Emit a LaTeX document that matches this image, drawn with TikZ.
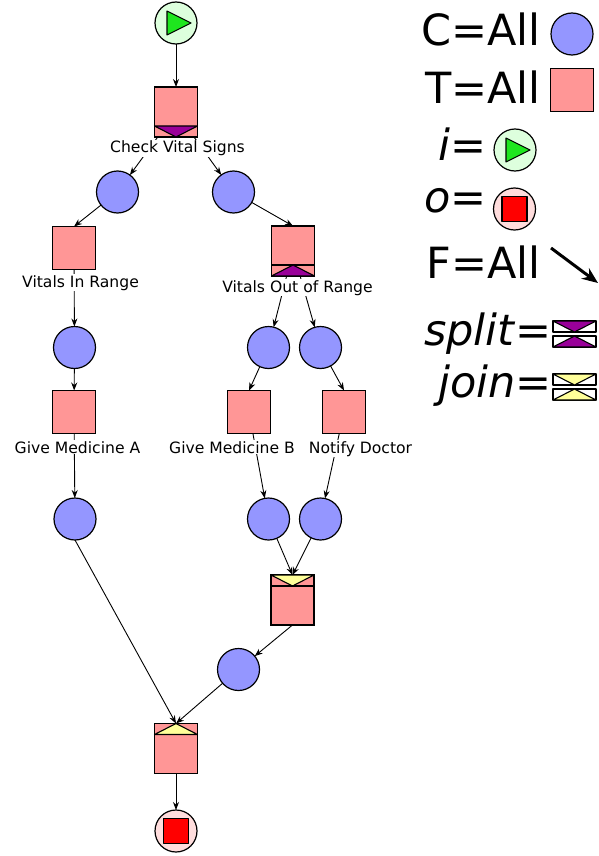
\documentclass[tikz,border=0pt]{standalone}
\usepackage{fontspec}
\setmainfont{DejaVu Sans}
\usetikzlibrary{arrows.meta,calc}

\definecolor{placeblue}{RGB}{148,150,255}
\definecolor{transred}{RGB}{255,150,150}
\definecolor{startgreen}{RGB}{221,255,221}
\definecolor{arrowgreen}{RGB}{30,230,30}
\definecolor{endpink}{RGB}{255,221,221}
\definecolor{splitpurple}{RGB}{153,0,153}
\definecolor{joinyellow}{RGB}{255,255,153}

\tikzset{
  place/.style={circle, draw, fill=placeblue, line width=1.2pt, minimum size=42pt, inner sep=0pt, outer sep=0pt},
  trans/.style={rectangle, draw, fill=transred, line width=1.2pt, minimum width=43pt, minimum height=43pt, inner sep=0pt, outer sep=0pt},
  tall/.style={trans, minimum height=50pt},
  startplace/.style={place, fill=startgreen},
  endplace/.style={place, fill=endpink},
  tlabel/.style={fill=white, inner sep=1pt, anchor=base, font=\fontsize{15.6}{18}\selectfont},
  legend/.style={anchor=base east, inner sep=0pt, font=\fontsize{43}{50}\selectfont},
  flow/.style={-{Stealth[length=8pt,width=6pt]}, line width=0.9pt},
  bar/.style={line width=1.1pt, line join=round},
}

% play and stop glyphs inside the input/output places
\newcommand{\playmark}[1]{\draw[bar, fill=arrowgreen] ($(#1)+(-9,-12)$) -- ($(#1)+(-9,12)$) -- ($(#1)+(15,0)$) -- cycle;}
\newcommand{\stopmark}[1]{\draw[bar, fill=red] ($(#1)+(-12.5,-12.5)$) rectangle ($(#1)+(12.5,12.5)$);}

\begin{document}
\begin{tikzpicture}[x=1pt, y=-1pt]
\useasboundingbox (0,0) rectangle (599,856);

% places and transitions
\node[startplace] (start) at (176,23) {};
\playmark{start}
\node[tall] (check) at (176,112) {};
\node[place] (p1) at (117.5,192) {};
\node[place] (p2) at (233.5,192) {};
\node[trans] (inrange) at (74,248) {};
\node[tall] (outrange) at (293,251) {};
\node[place] (p3) at (74.5,347.5) {};
\node[place] (p4) at (268.5,347.5) {};
\node[place] (p5) at (320.5,347.5) {};
\node[trans] (meda) at (74,412) {};
\node[trans] (medb) at (249,412) {};
\node[trans] (doctor) at (344,412) {};
\node[place] (p6) at (75,519) {};
\node[place] (p7) at (268.5,519) {};
\node[place] (p8) at (320.5,519) {};
\node[tall] (join1) at (292.5,600) {};
\node[place] (p9) at (238.5,669.5) {};
\node[tall] (join2) at (176,748.5) {};
\node[endplace] (finish) at (176,831) {};
\stopmark{finish}

% split and join bars
\draw[bar, fill=splitpurple] ($(check.south west)+(0,-11)$) -- ($(check.south east)+(0,-11)$) -- (check.south) -- cycle;
\draw[bar] ($(outrange.south west)+(0,-11)$) -- ($(outrange.south east)+(0,-11)$);
\draw[bar, fill=splitpurple] (outrange.south west) -- (outrange.south east) -- ($(outrange.south)+(0,-11)$) -- cycle;
\draw[bar, fill=joinyellow] (join1.north west) -- (join1.north east) -- ($(join1.north)+(0,11)$) -- cycle;
\draw[bar] ($(join1.north west)+(0,11)$) -- ($(join1.north east)+(0,11)$);
\draw[bar, fill=joinyellow] ($(join2.north west)+(0,11)$) -- ($(join2.north east)+(0,11)$) -- (join2.north) -- cycle;

% arcs
\draw[flow] (start) -- (check);
\draw[flow] (check) -- (p1);
\draw[flow] (check) -- (p2);
\draw[flow] (p1) -- (inrange.north);
\draw[flow] (p2) -- (outrange.north);
\draw[flow] (inrange) -- (p3);
\draw[flow] (p3) -- (meda);
\draw[flow] (outrange) -- (p4);
\draw[flow] (outrange) -- (p5);
\draw[flow] (p4) -- (medb.north);
\draw[flow] (p5) -- (doctor.north);
\draw[flow] (meda) -- (p6);
\draw[flow] (medb) -- (p7);
\draw[flow] (doctor) -- (p8);
\draw[flow] (p7) -- (join1.north);
\draw[flow] (p8) -- (join1.north);
\draw[flow] (join1.south) -- (p9);
\draw[flow] (p9) -- (join2.north);
\draw[flow] (p6.south) -- (join2.north);
\draw[flow] (join2) -- (finish);

% transition labels
\node[tlabel] (checklbl) at (177.5,153) {Check Vital Signs};
\node[tlabel] (inrangelbl) at (80.5,287) {Vitals In Range};
\node[tlabel] (outrangelbl) at (297.5,292) {Vitals Out of Range};
\node[tlabel] (medalbl) at (77.5,453) {Give Medicine A};
\node[tlabel] (medblbl) at (232,453) {Give Medicine B};
\node[tlabel] (doctorlbl) at (360.5,453) {Notify Doctor};

% legend
\node[legend] (cleg) at (541,46) {C=All};
\node[place] (cplace) at (572,34) {};
\node[legend] (tleg) at (541,104) {T=All};
\node[trans] (ttrans) at (572,90) {};
\node[legend] (ileg) at (487,160) {\textit{i}=};
\node[startplace] (iplace) at (515,150) {};
\playmark{iplace}
\node[legend] (oleg) at (487,212) {\textit{o}=};
\node[endplace] (oplace) at (514.5,209) {};
\stopmark{oplace}
\node[legend] (fleg) at (541,278) {F=All};
\coordinate (ftail) at (551,248);
\coordinate (fhead) at (598,283);
\draw[-{Stealth[length=16pt,width=13pt]}, line width=3pt] (ftail) -- (fhead);
\node[legend] (sleg) at (552,345) {\textit{split}=};
\draw[bar, fill=white] (553,321) rectangle (596,332);
\draw[bar, fill=splitpurple] (553,321) -- (596,321) -- (574.5,332) -- cycle;
\draw[bar, fill=white] (553,336) rectangle (596,347);
\draw[bar, fill=splitpurple] (553,347) -- (596,347) -- (574.5,336) -- cycle;
\node[legend] (jleg) at (552,397) {\textit{join}=};
\draw[bar, fill=white] (553,374) rectangle (596,385);
\draw[bar, fill=joinyellow] (553,374) -- (596,374) -- (574.5,385) -- cycle;
\draw[bar, fill=white] (553,389) rectangle (596,400);
\draw[bar, fill=joinyellow] (553,400) -- (596,400) -- (574.5,389) -- cycle;
\end{tikzpicture}
\end{document}
